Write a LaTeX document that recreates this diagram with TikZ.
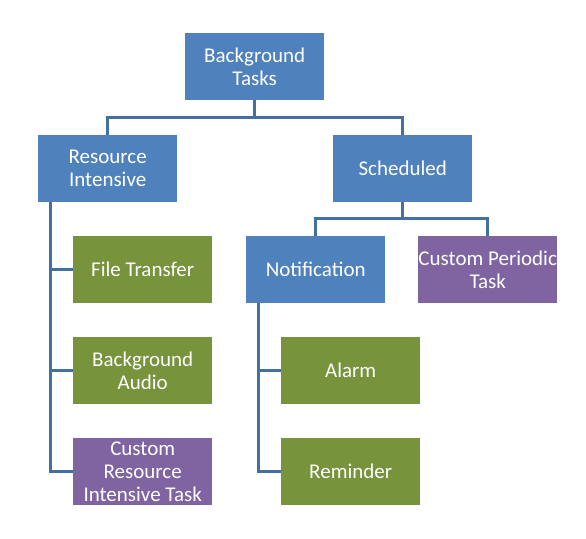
\documentclass[tikz,border=0pt]{standalone}
\usepackage{fontspec}
\setmainfont{Carlito}
\definecolor{bblue}{HTML}{4F81BD}
\definecolor{bgreen}{HTML}{77933C}
\definecolor{bpurple}{HTML}{8064A2}
\definecolor{lblue}{HTML}{41719C}
\begin{document}
\begin{tikzpicture}[x=1pt,y=-1pt,
  box/.style={minimum width=139pt,minimum height=67pt,inner sep=0pt,text=white,align=center,font=\fontsize{21}{23}\selectfont,anchor=north west},
  bluebox/.style={box,fill=bblue},
  greenbox/.style={box,fill=bgreen},
  purplebox/.style={box,fill=bpurple},
  conn/.style={draw=lblue,line width=3pt}]
\useasboundingbox (0,0) rectangle (586,538);
\node[bluebox] (bt) at (185,33) {Background\\Tasks};
\node[bluebox] (ri) at (38,135) {Resource\\Intensive};
\node[bluebox] (sc) at (333,135) {Scheduled};
\node[greenbox] (ft) at (73,236) {File Transfer};
\node[greenbox] (ba) at (73,337) {Background\\Audio};
\node[purplebox] (cr) at (73,438) {Custom\\Resource\\Intensive Task};
\node[bluebox] (no) at (246,236) {Notification};
\node[purplebox] (cp) at (418,236) {Custom Periodic\\Task};
\node[greenbox] (al) at (281,337) {Alarm};
\node[greenbox] (re) at (281,438) {Reminder};
\draw[conn] (bt.south) -- ++(0,17) -| (ri.north);
\draw[conn] (bt.south) ++(0,17) -| (sc.north);
\draw[conn] (sc.south) -- ++(0,16) -| (no.north);
\draw[conn] (sc.south) ++(0,16) -| (cp.north);
\coordinate (riv) at ([xshift=12pt]ri.south west);
\draw[conn] (riv) |- (cr.west);
\draw[conn] (riv |- ft.west) -- (ft.west);
\draw[conn] (riv |- ba.west) -- (ba.west);
\coordinate (nov) at ([xshift=12pt]no.south west);
\draw[conn] (nov) |- (re.west);
\draw[conn] (nov |- al.west) -- (al.west);
\end{tikzpicture}
\end{document}
